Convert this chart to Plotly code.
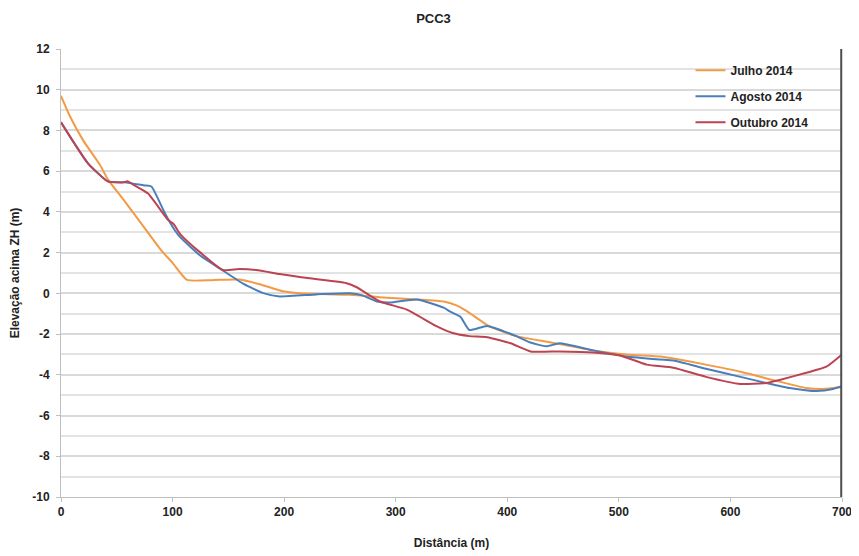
import plotly.graph_objects as go

julho_x = [0, 8, 20, 35, 42, 56, 75, 90, 100, 113, 135, 160, 178, 199, 214, 259, 289, 319, 343, 355, 363, 379, 385, 408, 438, 477, 507, 537, 549, 578, 609, 638, 668, 683, 700]
julho_y = [9.7, 8.7, 7.5, 6.3, 5.6, 4.6, 3.2, 2.1, 1.5, 0.66, 0.65, 0.68, 0.45, 0.1, 0.0, -0.07, -0.2, -0.3, -0.4, -0.6, -0.85, -1.45, -1.65, -2.1, -2.4, -2.8, -3.0, -3.1, -3.2, -3.5, -3.85, -4.25, -4.65, -4.7, -4.6]

agosto_x = [0, 24, 42, 57, 75, 81, 93, 102, 107, 125, 143, 164, 182, 196, 229, 259, 270, 283, 295, 319, 343, 349, 358, 366, 382, 408, 420, 435, 447, 477, 507, 537, 549, 578, 609, 632, 653, 677, 692, 700]
agosto_y = [8.4, 6.4, 5.5, 5.45, 5.3, 5.25, 3.95, 3.1, 2.75, 1.85, 1.2, 0.45, 0.0, -0.15, -0.05, 0.0, -0.1, -0.4, -0.45, -0.3, -0.7, -0.9, -1.15, -1.8, -1.6, -2.1, -2.4, -2.6, -2.45, -2.8, -3.1, -3.25, -3.3, -3.7, -4.1, -4.4, -4.65, -4.8, -4.7, -4.55]

outubro_x = [0, 24, 42, 55, 60, 66, 78, 96, 101, 107, 125, 145, 160, 175, 196, 214, 256, 265, 286, 310, 336, 351, 366, 382, 403, 421, 447, 477, 501, 525, 549, 578, 609, 632, 644, 668, 686, 700]
outubro_y = [8.4, 6.4, 5.5, 5.45, 5.5, 5.3, 4.9, 3.6, 3.4, 2.9, 2.0, 1.15, 1.2, 1.15, 0.95, 0.8, 0.5, 0.3, -0.4, -0.8, -1.6, -1.95, -2.1, -2.15, -2.45, -2.85, -2.85, -2.9, -3.05, -3.5, -3.65, -4.1, -4.45, -4.4, -4.25, -3.9, -3.6, -3.0]

series = [
    ("Julho 2014", julho_x, julho_y, "#F39A45"),
    ("Agosto 2014", agosto_x, agosto_y, "#4A7EBB"),
    ("Outubro 2014", outubro_x, outubro_y, "#BC4452"),
]

x_ticks = [0, 100, 200, 300, 400, 500, 600, 700]
y_ticks = [12, 10, 8, 6, 4, 2, 0, -2, -4, -6, -8, -10]

FONT = "Liberation Sans Narrow, Liberation Sans, Arial, sans-serif"

fig = go.Figure()
for name, xs, ys, col in series:
    fig.add_trace(go.Scatter(x=xs, y=ys, name=f"<b>{name}</b>", mode="lines", legendgroup=name,
                             line=dict(color=col, width=2, shape="spline", smoothing=0.5)))

fig.update_layout(
    width=851, height=548,
    margin=dict(l=53, r=17, t=41, b=59, autoexpand=False),
    paper_bgcolor="white", plot_bgcolor="white",
    font=dict(family=FONT, size=12, color="#222222"),
    title=dict(text="<b>PCC3</b>", x=0.5, xanchor="center", y=0.99, yanchor="top",
               font=dict(size=13, family=FONT, color="#222222")),
    showlegend=True,
    legend=dict(x=0.806, y=0.985, xanchor="left", yanchor="top",
                bgcolor="rgba(255,255,255,0)", font=dict(size=12, family=FONT, color="#222222"),
                itemwidth=30, tracegroupgap=7),
    xaxis=dict(range=[0, 700], tickvals=x_ticks, ticktext=[f"<b>{v}</b>" for v in x_ticks],
               showgrid=False, zeroline=False, showline=True, linecolor="#BFBFBF", linewidth=1,
               ticks="outside", ticklen=4, tickcolor="#BFBFBF", automargin=False,
               ticklabeloverflow="allow",
               title=dict(text="<b>Distância (m)</b>", font=dict(size=12), standoff=20),
               mirror=False),
    yaxis=dict(range=[-10, 12], tickvals=y_ticks, ticktext=[f"<b>{v}</b>" for v in y_ticks],
               showgrid=True, gridcolor="#D9D9D9", gridwidth=1.5, zeroline=False,
               showline=True, linecolor="#BFBFBF", linewidth=1, automargin=False,
               ticks="outside", ticklen=4, tickcolor="#BFBFBF", ticklabelstandoff=4,
               ticklabeloverflow="allow",
               minor=dict(dtick=1, showgrid=True, gridcolor="#E3E3E3", gridwidth=1.5),
               title=dict(text="<b>Elevação acima ZH (m)</b>", font=dict(size=12), standoff=16)),
)

# right border line of the plot area
fig.add_shape(type="line", xref="x domain", yref="y domain", x0=0.999, x1=0.999, y0=0, y1=1,
              line=dict(color="#4D4D4D", width=2), layer="above")

fig.write_html("out.html")
